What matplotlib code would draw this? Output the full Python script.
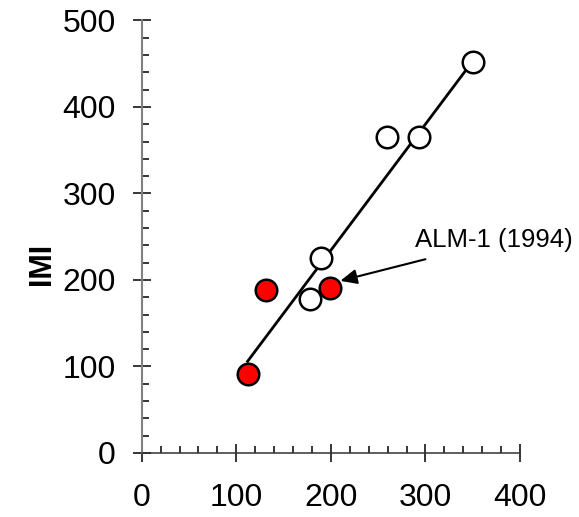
import matplotlib
matplotlib.use("Agg")
import matplotlib.pyplot as plt
from matplotlib.ticker import MultipleLocator

# open circles
open_x = [178, 190, 259, 293, 350]
open_y = [178, 225, 365, 365, 452]
# filled (red) circles
red_x = [112, 131, 199]
red_y = [91, 189, 191]
# fitted line end points
fit_x = [112, 350]
fit_y = [106, 453]

note_text = "ALM-1 (1994)"
note_pos = (289, 238)
arrow_tail = (300, 224)
arrow_tip = (210, 199)

plt.rcParams["font.family"] = ["Liberation Sans", "DejaVu Sans"]

fig = plt.figure(figsize=(5.79, 5.17), dpi=100)
ax = fig.add_axes([0.2447, 0.1238, 0.6534, 0.8366])

ax.plot(fit_x, fit_y, color="black", lw=2, zorder=2)
ax.plot(open_x, open_y, "o", ms=15.5, mfc="white", mec="black", mew=1.8, zorder=3)
ax.plot(red_x, red_y, "o", ms=15.5, mfc="#ff0000", mec="black", mew=1.8, zorder=3)

ax.text(note_pos[0], note_pos[1], note_text, fontsize=18.5, ha="left", va="baseline",
        clip_on=False)
ax.annotate("", xy=arrow_tip, xytext=arrow_tail,
            arrowprops=dict(arrowstyle="-|>,head_length=1.0,head_width=0.45",
                            color="black", lw=1.5, mutation_scale=10,
                            shrinkA=0, shrinkB=0),
            zorder=4)

ax.set_xlim(0, 400)
ax.set_ylim(0, 500)
ax.xaxis.set_major_locator(MultipleLocator(100))
ax.xaxis.set_minor_locator(MultipleLocator(20))
ax.yaxis.set_major_locator(MultipleLocator(100))
ax.yaxis.set_minor_locator(MultipleLocator(20))

for s in ["top", "right"]:
    ax.spines[s].set_visible(False)
ax.spines["left"].set_color("#808080")
ax.spines["bottom"].set_color("#333333")
ax.spines["left"].set_linewidth(1.5)
ax.spines["bottom"].set_linewidth(1.1)

ax.tick_params(which="major", direction="inout", length=13, width=1.1,
               labelsize=23, color="black")
ax.tick_params(axis="x", which="major", pad=15)
ax.tick_params(axis="y", which="major", pad=12)
ax.tick_params(which="minor", direction="in", length=5, width=1.1, color="black")

ax.set_ylabel("IMI", fontsize=22, fontweight="bold", labelpad=4, y=0.436)

fig.savefig("out.png", dpi=100)
